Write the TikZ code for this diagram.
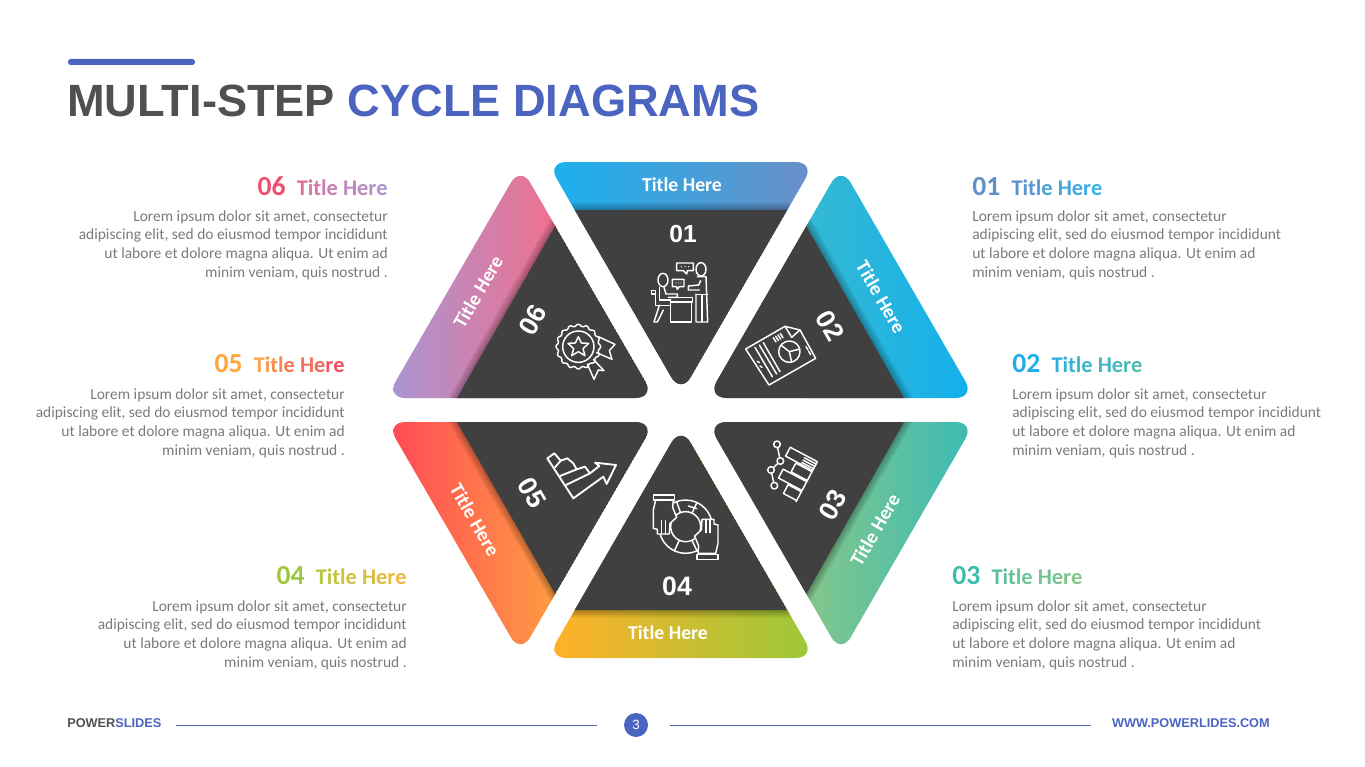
\documentclass[tikz,border=0pt]{standalone}
\usepackage{fontspec}
\setmainfont{Carlito}
\newfontfamily\arialfont{Liberation Sans}
\definecolor{brandblue}{HTML}{4A64C0}
\definecolor{headgray}{HTML}{505050}
\definecolor{bodygray}{HTML}{7A7A7A}
\definecolor{darkfill}{HTML}{404040}
\definecolor{footline}{HTML}{4F67A8}
\tikzset{
  darktri/.style={fill=darkfill},
  icon/.style={draw=white, line width=1.1pt, line join=round, line cap=round},
  bandtitle/.style={text=white, font=\fontsize{14.8}{16}\bfseries\selectfont, inner sep=0pt},
  stepnum/.style={text=white, font=\fontsize{20}{22}\arialfont\bfseries\selectfont, inner sep=0pt},
  sidehead/.style={font=\fontsize{16.8}{18}\bfseries\selectfont, inner sep=0pt},
  sidetext/.style={text=bodygray, font=\fontsize{11.6}{14}\selectfont, inner sep=0pt},
  footer/.style={font=\fontsize{9.55}{10}\arialfont\bfseries\selectfont, inner sep=0pt},
}
% number plus title, the title coloured letter by letter
\newcommand{\sidetitle}[4]{%
  \definecolor{numcol}{HTML}{#2}\definecolor{gradA}{HTML}{#3}\definecolor{gradB}{HTML}{#4}%
  {\fontsize{20.7}{22}\selectfont\textcolor{numcol}{#1}}\hspace{8.5pt}%
  \color{gradA}T\color{gradA!88!gradB}i\color{gradA!76!gradB}t\color{gradA!64!gradB}l\color{gradA!52!gradB}e \color{gradA!40!gradB}H\color{gradA!28!gradB}e\color{gradA!14!gradB}r\color{gradB}e}
\newcommand{\loremtext}{Lorem ipsum dolor sit amet, consectetur\\adipiscing elit, sed do eiusmod tempor incididunt\\ut labore et dolore magna aliqua. Ut enim ad\\minim veniam, quis nostrud .}
% #1 outer triangle, #2 dark part, #3/#4 x range of the shade, #5/#6 colours
\newcommand{\cyclepiece}[6]{%
  \begin{scope}
    \definecolor{shadeA}{HTML}{#5}\definecolor{shadeB}{HTML}{#6}
    \clip[rounded corners=14.5pt] #1 -- cycle;
    \shade[left color=shadeA, right color=shadeB] (#3,150) rectangle (#4,670);
    \foreach \w in {11pt,8pt,5pt,2.5pt}{\draw[black, opacity=.08, line width=\w] #2 -- cycle;}
    \fill[darktri] #2 -- cycle;
  \end{scope}}
\begin{document}
\begin{tikzpicture}[x=.75pt, y=-.75pt]
  \useasboundingbox (0,0) rectangle (1365,767);
  % header
  \fill[brandblue, rounded corners=2pt] (68,59) rectangle (195,65);
  \node[anchor=base west, inner sep=0pt, font=\fontsize{33.9}{40}\arialfont\bfseries\selectfont] (heading) at (67,117)
    {\textcolor{headgray}{MULTI-STEP} \textcolor{brandblue}{CYCLE DIAGRAMS}};
  % the six pieces
  \cyclepiece{(547,162) -- (815,162) -- (681,394)}{(574.7,210) -- (787.3,210) -- (681,394)}{554}{808}{1BB1EE}{6A8FC8}
  \cyclepiece{(841,166) -- (975,398) -- (707,398)}{(806.3,226) -- (904,398) -- (707,398)}{806}{968}{34B9D2}{14B0EC}
  \cyclepiece{(707,422) -- (975,422) -- (841,654)}{(904,422) -- (806.3,594) -- (707,422)}{806}{968}{84C78A}{3CBBB4}
  \cyclepiece{(547,658) -- (815,658) -- (681,426)}{(574.7,610) -- (787.3,610) -- (681,426)}{554}{808}{FFB129}{9CC838}
  \cyclepiece{(386,422) -- (655,422) -- (520.5,654)}{(457,422) -- (655,422) -- (555.2,594)}{393}{556}{FF4B55}{FF9C42}
  \cyclepiece{(520.5,166) -- (655,398) -- (386,398)}{(555.2,226) -- (655,398) -- (457,398)}{393}{557}{AB94D0}{F0708F}
  % titles on the bands
  \node[bandtitle] (band1) at (682,185) {Title Here};
  \node[bandtitle, rotate=-60] (band2) at (881,297) {Title Here};
  \node[bandtitle, rotate=60] (band3) at (875,530) {Title Here};
  \node[bandtitle] (band4) at (668,633) {Title Here};
  \node[bandtitle, rotate=-60] (band5) at (475,520) {Title Here};
  \node[bandtitle, rotate=60] (band6) at (478,292) {Title Here};
  % numbers
  \node[stepnum, font=\fontsize{18.5}{20}\arialfont\bfseries\selectfont] (num1) at (683,234) {01};
  \node[stepnum, rotate=-60] (num2) at (830,326) {02};
  \node[stepnum, rotate=60] (num3) at (833,505) {03};
  \node[stepnum] (num4) at (677,586) {04};
  \node[stepnum, rotate=-60] (num5) at (532,493) {05};
  \node[stepnum, rotate=60] (num6) at (533,320) {06};
  % icon 01
  \begin{scope}[shift={(540,150)}, x=.25pt, y=-.25pt, icon]
    \draw (369,390) ellipse [x radius=15, y radius=20];
    \draw (483,358) ellipse [x radius=15, y radius=20];
    \draw (358,412) -- (358,450) -- (392,450);
    \draw (372,412) -- (378,432) -- (412,432) -- (412,442) -- (385,442);
    \draw (334,422) -- (346,422) -- (346,466) -- (392,466);
    \draw (334,422) -- (334,432) -- (346,432);
    \draw (358,466) -- (342,516) -- (352,516) -- (370,480);
    \draw (385,442) -- (458,442) -- (458,456) -- (392,456);
    \draw (392,456) -- (392,516) -- (455,516) -- (455,456);
    \draw (472,380) -- (498,380) -- (503,516) -- (468,516) -- (468,432);
    \draw (482,392) -- (476,405) -- (445,408) -- (445,420) -- (478,420);
    \draw (468,434) -- (503,434);
    \draw (486,434) -- (486,516);
    \draw (410,339) -- (460,339) -- (460,362) -- (442,362) -- (440,372) -- (430,362) -- (410,362) -- cycle;
    \draw (397,388) -- (432,388) -- (432,410) -- (418,410) -- (412,418) -- (410,410) -- (397,410) -- cycle;
    \foreach \p in {424,435,446}{\fill[white] (\p,350) circle [radius=2];}
    \foreach \p in {408,416,423}{\fill[white] (\p,399) circle [radius=2];}
  \end{scope}
  % icon 02
  \begin{scope}[shift={(700,160)}, x=.25pt, y=-.25pt, icon]
    \draw (137,567) -- (255,499) -- (300,510) -- (347,595) -- (207,675) -- cycle;
    \draw (255,499) -- (275,532) -- (300,510);
    \draw (165,562) -- (217,650);
    \draw (178,555) -- (230,642);
    \draw (190,548) -- (240,635);
    \draw (268,575) circle [radius=32];
    \draw (268,575) -- (244,556);
    \draw (268,575) -- (300,567);
    \draw (268,575) -- (275,607);
    \foreach \p in {0,7,14,21}{\draw (220+\p,533-\p*.6) -- (228+\p,546-\p*.6);}
    \draw (172,604) -- (178,608);
    \draw (180,618) -- (186,622);
    \draw (318,560) -- (324,570);
    \draw (326,574) -- (332,584);
  \end{scope}
  % icon 03
  \begin{scope}[shift={(700,410)}, x=.25pt, y=-.25pt, icon]
    \draw (231,103) circle [radius=10];
    \draw (241,153) circle [radius=10];
    \draw (213,180) circle [radius=10];
    \draw (223,227) circle [radius=10];
    \draw (233,113) -- (239,143);
    \draw (234,160) -- (220,173);
    \draw (215,190) -- (221,217);
    \begin{scope}[shift={(352,155)}, rotate=-118]
      \draw (0,0) -- (136,0);
      \foreach \s/\l in {0/92,34/55,68/80,102/45}{\draw (\s,0) -- (\s,\l) -- (\s+30,\l) -- (\s+30,0);}
      \foreach \s in {8,16,24}{\draw (\s,0) -- (\s,40);}
    \end{scope}
  \end{scope}
  % icon 04
  \begin{scope}[shift={(540,430)}, x=.25pt, y=-.25pt, icon]
    \draw (437,290) circle [radius=80];
    \draw (437,290) circle [radius=45];
    \foreach \a in {25,65,115,205,250,295}{\draw (\a:45) ++(437,290) -- ++(\a:35);}
    \draw (445,228) -- (470,236);
    \draw[fill=darkfill] (347,210) -- (340,240) -- (340,295) -- (352,298) -- (352,312) -- (388,312) -- (390,280) -- (410,262) -- (398,232) -- (400,210) -- cycle;
    \draw[fill=darkfill] (527,370) -- (534,340) -- (534,285) -- (522,282) -- (522,268) -- (486,268) -- (484,300) -- (464,318) -- (476,348) -- (474,370) -- cycle;
    \draw[fill=darkfill] (340,195) rectangle (403,210);
    \draw[fill=darkfill] (471,373) rectangle (534,388);
    \foreach \p in {364,376}{\draw (\p,272) -- (\p,312);}
    \foreach \p in {498,510}{\draw (\p,268) -- (\p,308);}
  \end{scope}
  % icon 05
  \begin{scope}[shift={(540,430)}, x=.25pt, y=-.25pt, icon, line width=1.4pt]
    \draw (22,85) -- (43,70) -- (62,92) -- (82,85) -- (100,100) -- (110,118) -- (135,110) -- (150,130) -- (178,108) -- (165,98) -- (228,105) -- (200,162) -- (190,140) -- (100,205) -- cycle;
    \draw (45,112) -- (62,92);
    \draw (60,138) -- (110,118);
    \draw (78,165) -- (150,130);
  \end{scope}
  % icon 06
  \begin{scope}[shift={(380,160)}, x=.25pt, y=-.25pt, icon]
    \draw plot[domain=0:360, samples=145, smooth] ({595+(64+3*cos(16*\x))*cos(\x)},{560+(64+3*cos(16*\x))*sin(\x)});
    \draw (595,560) circle [radius=47];
    \draw (595,530) -- (604,549) -- (626,550) -- (609,566) -- (615,587) -- (595,575) -- (575,587) -- (581,566) -- (564,550) -- (586,549) -- cycle;
    \draw (655,530) -- (705,553) -- (688,572) -- (696,598) -- (650,578);
    \draw (622,612) -- (642,658) -- (655,630) -- (672,632) -- (640,598);
  \end{scope}
  % side texts, left column
  \node[sidehead, anchor=base east] (head6) at (388,195.5) {\sidetitle{06}{F0506E}{E0709A}{AB94D0}};
  \node[sidetext, align=right, anchor=north east] (text6) at (388,210) {\loremtext};
  \node[sidehead, anchor=base east] (head5) at (345,372.5) {\sidetitle{05}{FFA53C}{F9A24A}{EF5064}};
  \node[sidetext, align=right, anchor=north east] (text5) at (345,388) {\loremtext};
  \node[sidehead, anchor=base east] (head4) at (407,584.5) {\sidetitle{04}{9CC83C}{B5C840}{EFB840}};
  \node[sidetext, align=right, anchor=north east] (text4) at (407,600) {\loremtext};
  % side texts, right column
  \node[sidehead, anchor=base west] (head1) at (972,195.5) {\sidetitle{01}{6090C8}{6090CC}{36B4E8}};
  \node[sidetext, align=left, anchor=north west] (text1) at (972,210) {\loremtext};
  \node[sidehead, anchor=base west] (head2) at (1012,372.5) {\sidetitle{02}{1EAEEA}{2DB0E0}{50BCB0}};
  \node[sidetext, align=left, anchor=north west] (text2) at (1012,388) {\loremtext};
  \node[sidehead, anchor=base west] (head3) at (952,584.5) {\sidetitle{03}{40BBB0}{5BBFA0}{84C78A}};
  \node[sidetext, align=left, anchor=north west] (text3) at (952,600) {\loremtext};
  % footer
  \node[footer, anchor=west] (brand) at (67,723) {\textcolor{headgray}{POWER}\textcolor{brandblue}{SLIDES}};
  \node[circle, fill=brandblue, text=white, inner sep=0pt, minimum size=18pt, font=\fontsize{10}{12}\arialfont\selectfont] (pagenum) at (636,725) {3};
  \node[footer, text=brandblue, anchor=east] (website) at (1270,723) {WWW.POWERLIDES.COM};
  \coordinate (lineA) at (176,725);
  \coordinate (lineB) at (597,725);
  \coordinate (lineC) at (670,725);
  \coordinate (lineD) at (1091,725);
  \draw[footline, line width=.75pt] (lineA) -- (lineB);
  \draw[footline, line width=.75pt] (lineC) -- (lineD);
\end{tikzpicture}
\end{document}
